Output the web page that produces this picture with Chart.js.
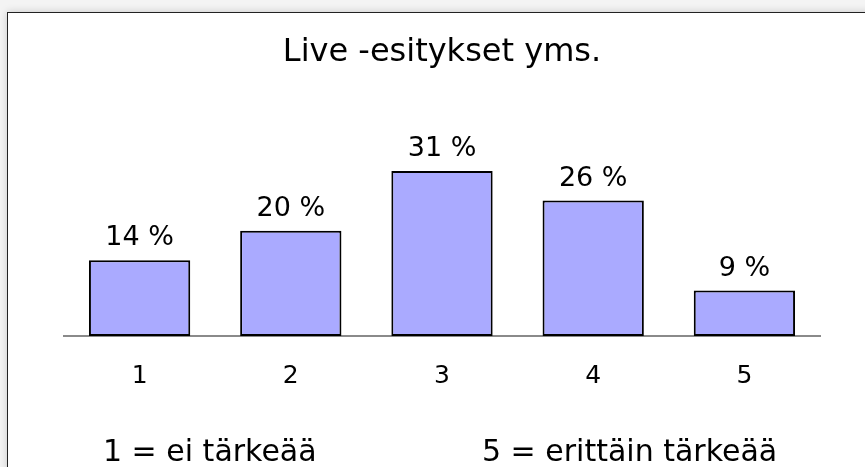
<!DOCTYPE html>
<html>
<head>
<meta charset="utf-8">
<script src="https://cdn.jsdelivr.net/npm/chart.js@4/dist/chart.umd.min.js"></script>
<style>
  body { margin: 0; background: #f4f4f4; overflow: hidden; }
  #frame {
    position: absolute; left: 7px; top: 12px; width: 900px; height: 500px;
    background: #fff; border: 1.5px solid #222;
    box-shadow: 0 0 8px rgba(0,0,0,0.18);
  }
  #chart { position: absolute; left: 0; top: 0; }
</style>
</head>
<body>
<div id="frame"></div>
<canvas id="chart" width="865" height="467"></canvas>
<script>
// Live -esitykset yms. – share of answers per rating
const categories = ['1', '2', '3', '4', '5'];
const shares = [14.3, 19.9, 31.2, 25.6, 8.6];
const titleText = 'Live -esitykset yms.';
const noteLeft = '1 = ei tärkeää';
const noteRight = '5 = erittäin tärkeää';

const FONT = "'DejaVu Sans', Verdana, sans-serif";

// value labels above bars
const barLabels = {
    id: 'barLabels',
    afterDatasetsDraw(chart) {
        const ctx = chart.ctx;
        const meta = chart.getDatasetMeta(0);
        ctx.save();
        ctx.font = '27px ' + FONT;
        ctx.fillStyle = '#000';
        ctx.textAlign = 'center';
        ctx.textBaseline = 'alphabetic';
        meta.data.forEach((bar, i) => {
            ctx.fillText(Math.round(shares[i]) + ' %', bar.x, bar.y - 15);
        });
        ctx.restore();
    }
};

// scale explanation under the axis
const scaleNote = {
    id: 'scaleNote',
    afterDraw(chart) {
        const ctx = chart.ctx;
        ctx.save();
        ctx.font = '30px ' + FONT;
        ctx.fillStyle = '#000';
        ctx.textAlign = 'left';
        ctx.textBaseline = 'alphabetic';
        ctx.fillText(noteLeft, 103, 461);
        ctx.fillText(noteRight, 482, 461);
        ctx.restore();
    }
};

new Chart(document.getElementById('chart').getContext('2d'), {
    type: 'bar',
    data: {
        labels: categories,
        datasets: [{
            data: shares,
            backgroundColor: '#AAAAFF',
            borderColor: '#000',
            borderWidth: 2,
            borderSkipped: false,
            barPercentage: 0.67,
            categoryPercentage: 1
        }]
    },
    options: {
        responsive: false,
        animation: false,
        layout: {
            padding: { left: 64, right: 45, top: 0, bottom: 51 }
        },
        plugins: {
            legend: { display: false },
            tooltip: { enabled: false },
            title: {
                display: true,
                text: titleText,
                color: '#000',
                font: { family: FONT, size: 32, weight: 'normal' },
                padding: { top: 33, bottom: 53 }
            }
        },
        scales: {
            x: {
                grid: { display: true, drawOnChartArea: false, drawTicks: false, color: 'transparent' },
                border: { display: true, color: '#8a8a8a', width: 2 },
                ticks: {
                    color: '#000',
                    padding: 25,
                    font: { family: FONT, size: 25 }
                }
            },
            y: {
                display: false,
                min: 0,
                max: 40
            }
        }
    },
    plugins: [barLabels, scaleNote]
});
</script>
</body>
</html>
